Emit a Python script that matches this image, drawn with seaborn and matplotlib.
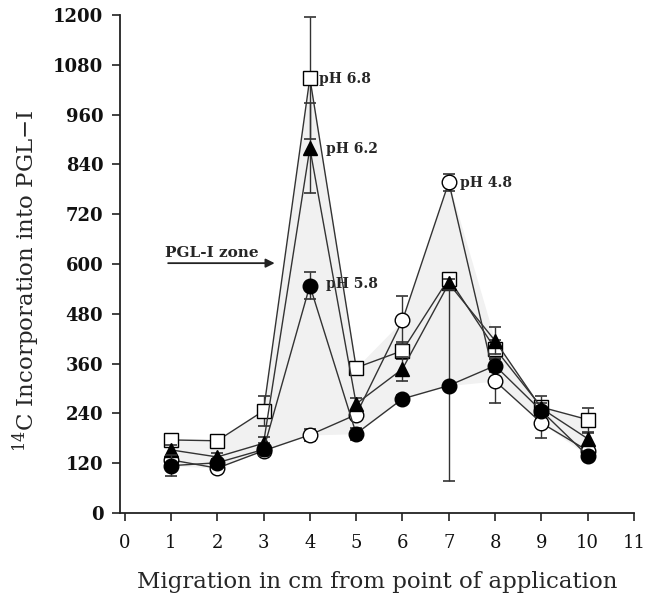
import numpy as np
import pandas as pd
import matplotlib
matplotlib.use("Agg")
import matplotlib.pyplot as plt
import seaborn as sns

# ---- data ----
x_cm = [1, 2, 3, 4, 5, 6, 7, 8, 9, 10]
ph68 = [176, 174, 246, 1048, 350, 391, 565, 396, 255, 225]
ph62 = [152, 135, 168, 879, 263, 347, 553, 415, 252, 179]
ph58 = [114, 121, 153, 548, 191, 275, 307, 355, 246, 138]
ph48 = [128, 108, 150, 188, 237, 464, 797, 318, 217, 150]
err68 = [14, 8, 37, 147, 8, 20, 10, 20, 28, 29]
err62 = [12, 10, 15, 108, 14, 30, 10, 32, 14, 14]
err58 = [26, 10, 15, 33, 14, 10, 230, 15, 10, 10]
err48 = [10, 10, 10, 15, 10, 58, 20, 52, 36, 10]
labels = ["pH 6.8", "pH 6.2", "pH 5.8", "pH 4.8"]
x_ticks = list(range(0, 12))
y_ticks = [0, 120, 240, 360, 480, 600, 720, 840, 960, 1080, 1200]

sns.set_theme(style="white")
plt.rcParams["font.family"] = ["DejaVu Serif"]
plt.rcParams["mathtext.fontset"] = "dejavuserif"

fig = plt.figure(figsize=(6.45, 5.99), dpi=100)
ax = fig.add_axes([0.186, 0.1436, 0.797, 0.8314])

allv = np.array([ph68, ph62, ph58, ph48])
ax.fill_between(x_cm, allv.max(axis=0), allv.min(axis=0), color="#f1f1f1", lw=0, zorder=0)

series = [
    (ph68, err68, "s", "white"),
    (ph48, err48, "o", "white"),
    (ph62, err62, "^", "black"),
    (ph58, err58, "o", "black"),
]
for i, (vals, errs, mk, fc) in enumerate(series):
    ax.errorbar(x_cm, vals, yerr=errs, fmt="none", ecolor="#333333", elinewidth=1.0,
                capsize=4, capthick=1.2, zorder=2 + i)
    sns.lineplot(x=x_cm, y=vals, ax=ax, color="#333333", lw=1.0, marker=mk,
                 markersize=10.5, markerfacecolor=fc,
                 markeredgecolor="black", markeredgewidth=1.0, zorder=3 + i)

ax.set_xlim(-0.1, 11.0)
ax.set_ylim(0, 1200)
ax.set_xticks(x_ticks)
ax.set_yticks(y_ticks)
ax.set_xticklabels([str(t) for t in x_ticks], fontsize=13)
ax.set_yticklabels([str(t) for t in y_ticks], fontsize=13, fontweight="bold")
for s in ["top", "right"]:
    ax.spines[s].set_visible(False)
for s in ["left", "bottom"]:
    ax.spines[s].set_color("#222222")
    ax.spines[s].set_linewidth(1.3)
ax.tick_params(axis="both", direction="out", length=6, width=1.2, color="#222222",
               left=True, bottom=True, pad=6, labelcolor="#111111")
ax.tick_params(axis="x", pad=9)

ax.set_xlabel("Migration in cm from point of application", fontsize=16.5, labelpad=14)
ax.set_ylabel(r"$^{14}$C Incorporation into PGL$-$I", fontsize=16.5)
ax.yaxis.set_label_coords(-0.152, 0.466)

ax.text(4.2, 1045, labels[0], fontsize=10, fontweight="bold", va="center")
ax.text(4.35, 878, labels[1], fontsize=10, fontweight="bold", va="center")
ax.text(4.35, 552, labels[2], fontsize=10, fontweight="bold", va="center")
ax.text(7.25, 795, labels[3], fontsize=10, fontweight="bold", va="center")
ax.text(0.88, 626, "PGL-I zone", fontsize=11, fontweight="bold", va="center")
ax.annotate("", xy=(3.3, 602), xytext=(0.88, 602),
            arrowprops=dict(arrowstyle="-|>", color="#222222", lw=1.3, mutation_scale=13))

fig.savefig("out.png", dpi=100)
